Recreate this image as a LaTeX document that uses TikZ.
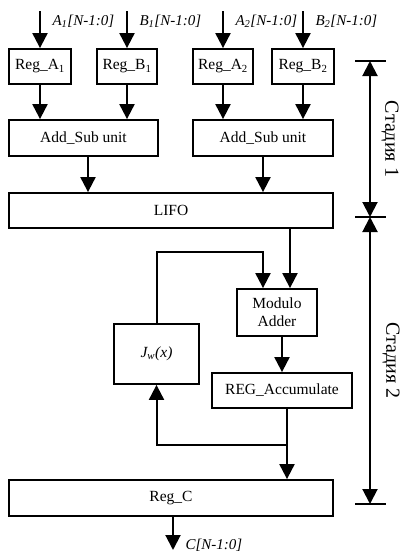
\documentclass[tikz,border=0pt]{standalone}
\usepackage{fontspec}
\setmainfont{Liberation Serif}
\usetikzlibrary{arrows.meta, positioning, calc}

\begin{document}
\begin{tikzpicture}[x=1pt, y=-1pt,
  block/.style={draw, line width=1.8pt, minimum height=35pt, inner sep=2pt,
                align=center, font=\fontsize{15.5}{18}\selectfont},
  arrow/.style={-{Triangle[width=15pt,length=15pt]}, line width=2pt},
  stage/.style={{Triangle[width=15pt,length=15pt]}-{Triangle[width=15pt,length=15pt]}, line width=2pt},
  sig/.style={anchor=west, font=\fontsize{15}{17}\selectfont\itshape},
  bar/.style={line width=2pt},
  stagelabel/.style={rotate=-90, font=\fontsize{20}{22}\selectfont}]

  \useasboundingbox (0,0) rectangle (401,552);

  % input registers
  \node[block, minimum width=62pt] (rega1) at (40,66.5)  {Reg\_A\textsubscript{1}};
  \node[block, minimum width=60pt] (regb1) at (127,66.5) {Reg\_B\textsubscript{1}};
  \node[block, minimum width=60pt] (rega2) at (223,66.5) {Reg\_A\textsubscript{2}};
  \node[block, minimum width=62pt] (regb2) at (303,66.5) {Reg\_B\textsubscript{2}};

  \coordinate (ina1) at ($(rega1.north)+(0,-37)$);
  \coordinate (inb1) at ($(regb1.north)+(0,-37)$);
  \coordinate (ina2) at ($(rega2.north)+(0,-37)$);
  \coordinate (inb2) at ($(regb2.north)+(0,-37)$);

  \draw[arrow] (ina1) -- (rega1);
  \draw[arrow] (inb1) -- (regb1);
  \draw[arrow] (ina2) -- (rega2);
  \draw[arrow] (inb2) -- (regb2);

  \node[sig] (la1) at ($(ina1)+(9,10)$) {A\textsubscript{1}[N-1:0]};
  \node[sig] (lb1) at ($(inb1)+(9,10)$) {B\textsubscript{1}[N-1:0]};
  \node[sig] (la2) at ($(ina2)+(9,10)$) {A\textsubscript{2}[N-1:0]};
  \node[sig] (lb2) at ($(inb2)+(9,10)$) {B\textsubscript{2}[N-1:0]};

  % stage 1
  \node[block, minimum width=149pt, minimum height=36pt] (add1) at (83.5,138) {Add\_Sub unit};
  \node[block, minimum width=140pt, minimum height=36pt] (add2) at (263,138)  {Add\_Sub unit};

  \draw[arrow] (rega1) -- (rega1 |- add1.north);
  \draw[arrow] (regb1) -- (regb1 |- add1.north);
  \draw[arrow] (rega2) -- (rega2 |- add2.north);
  \draw[arrow] (regb2) -- (regb2 |- add2.north);

  \node[block, minimum width=324pt] (lifo) at (171,210.5) {LIFO};

  \coordinate (add1out) at ($(add1.south)+(4.5,0)$);
  \draw[arrow] (add1out) -- (add1out |- lifo.north);
  \draw[arrow] (add2) -- (add2 |- lifo.north);

  % stage 2
  \node[block, minimum width=80pt, minimum height=47pt] (modadd) at (277,312.5) {Modulo\\Adder};
  \node[block, minimum width=85pt, minimum height=60pt] (jw) at (156.5,354) {\itshape J\textsubscript{w}(x)};
  \node[block, minimum width=140pt] (regacc) at (282,390.5) {REG\_Accumulate};
  \node[block, minimum width=324pt, minimum height=36pt] (regc) at (171,498) {Reg\_C};

  \coordinate (lifoout) at ($(modadd.north)+(13,0)$);
  \coordinate (fbin)    at ($(modadd.north)+(-14,0)$);
  \coordinate (tap)     at ($(regacc.south)+(5,36)$);
  \coordinate (cout)    at (173,550);

  \draw[arrow] (lifoout |- lifo.south) -- (lifoout);
  \draw[arrow] (jw.north) -- ++(0,-71) -| (fbin);
  \draw[arrow] (modadd.south -| regacc.north) -- (regacc.north);
  \draw[arrow] (tap |- regacc.south) -- (tap |- regc.north);
  \draw[arrow] (tap) -| (jw.south);
  \draw[arrow] (cout |- regc.south) -- (cout);

  \node[sig] (lc) at ($(cout)+(9,-5)$) {C[N-1:0]};

  % stage markers
  \coordinate (st0) at (370,61);
  \coordinate (st1) at (370,217);
  \coordinate (st2) at (370,504);

  \draw[bar] ($(st0)+(-15,0)$) -- ($(st0)+(16,0)$);
  \draw[bar] ($(st1)+(-15,0)$) -- ($(st1)+(16,0)$);
  \draw[bar] ($(st2)+(-15,0)$) -- ($(st2)+(16,0)$);

  \draw[stage] (st0) -- (st1);
  \draw[stage] (st1) -- (st2);

  \node[stagelabel] (lst1) at ($(st0)!0.5!(st1)+(20,0)$) {Стадия 1};
  \node[stagelabel] (lst2) at ($(st1)!0.5!(st2)+(21,0)$) {Стадия 2};
\end{tikzpicture}
\end{document}
